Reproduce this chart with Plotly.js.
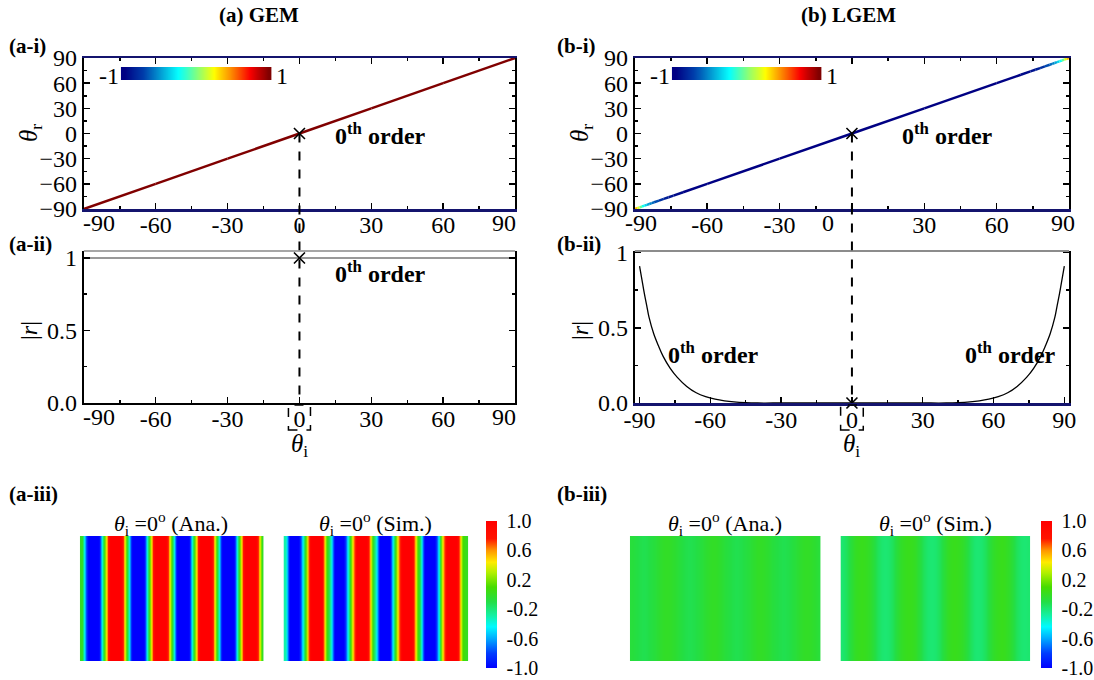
<!DOCTYPE html>
<html><head><meta charset="utf-8">
<script src="https://cdn.plot.ly/plotly-3.0.1.min.js"></script>
<style>html,body{margin:0;padding:0;background:#fff}</style>
</head><body><div id="chart" style="width:1094px;height:680px"></div>
<script>
const W = 1094, H = 680;

// ---------- DATA ----------
// (a-i) GEM: reflected angle vs incident angle, colour = value on -1..1 scale
const thetaI_A = [-90, -60, -30, 0, 30, 60, 90];
const thetaR_A = [-90, -60, -30, 0, 30, 60, 90];
const colorA = [1, 1, 1, 1, 1, 1, 1];
// (a-ii) GEM |r|
const rA = [1, 1, 1, 1, 1, 1, 1];
// (b-i) LGEM
const thetaI_B = [-90,-89,-88,-87,-86,-85,-84,-83,-82,-80,-78,-76,-74,-70,-60,-30,0,30,60,70,74,76,78,80,82,83,84,85,86,87,88,89,90];
const thetaR_B = [-90,-89,-88,-87,-86,-85,-84,-83,-82,-80,-78,-76,-74,-70,-60,-30,0,30,60,70,74,76,78,80,82,83,84,85,86,87,88,89,90];
const colorB = [0.5,0.3,0.05,-0.15,-0.3,-0.42,-0.52,-0.6,-0.66,-0.76,-0.84,-0.9,-0.94,-0.98,-1,-1,-1,-1,-1,-0.98,-0.94,-0.9,-0.84,-0.76,-0.66,-0.6,-0.52,-0.42,-0.3,-0.15,0.05,0.3,0.5];
// (b-ii) LGEM |r|
const thetaI_Bii = [-90,-89,-88,-87,-86,-84,-82,-80,-77,-74,-70,-66,-62,-58,-54,-50,-45,-40,-30,-20,-10,0,10,20,30,40,45,50,54,58,62,66,70,74,77,80,82,84,86,87,88,89,90];
const rB = [0.91,0.82,0.73,0.65,0.57,0.46,0.38,0.31,0.23,0.17,0.11,0.068,0.042,0.025,0.014,0.007,0.002,0,0,0,0,0,0,0,0,0,0.002,0.007,0.014,0.025,0.042,0.068,0.11,0.17,0.23,0.31,0.38,0.46,0.57,0.65,0.73,0.82,0.91];
// working point (0th order at normal incidence)
const markA_i = {x:[0], y:[0]}, markA_ii = {x:[0], y:[1]};
const markB_i = {x:[0], y:[0]}, markB_ii = {x:[0], y:[0]};
// (a-iii)/(b-iii) field profiles across the sample (columns, left to right)
const anaA = [0,-0.75,-1.2,-1.3,-1.2,-0.75,0,0.75,1.2,1.3,1.2,0.75, 0,-0.75,-1.2,-1.3,-1.2,-0.75,0,0.75,1.2,1.3,1.2,0.75, 0,-0.75,-1.2,-1.3,-1.2,-0.75,0,0.75,1.2,1.3,1.2,0.75, 0,-0.75,-1.2,-1.3,-1.2,-0.75,0,0.75,1.2,1.3,1.2,0.75, 0];
const simA = [-0.3,-1.0,-1.3,-1.2,-0.8,-0.1,0.6,1.1,1.3,1.2,0.8,0.1, -0.3,-1.0,-1.3,-1.2,-0.8,-0.1,0.6,1.1,1.3,1.2,0.8,0.1, -0.3,-1.0,-1.3,-1.2,-0.8,-0.1,0.6,1.1,1.3,1.2,0.8,0.1, -0.3,-1.0,-1.3,-1.2,-0.8,-0.1,0.6,1.1,1.3,1.2,0.8,0.1, 0.0];
const anaB = [-0.07,-0.09,-0.11,-0.12,-0.11,-0.09,-0.07,-0.04,-0.02,-0.01,-0.02,-0.04, -0.07,-0.09,-0.11,-0.12,-0.11,-0.09,-0.07,-0.04,-0.02,-0.01,-0.02,-0.04, -0.07,-0.09,-0.11,-0.12,-0.11,-0.09,-0.07,-0.04,-0.02,-0.01,-0.02,-0.04, -0.07,-0.09,-0.11,-0.12,-0.11,-0.09,-0.07,-0.04,-0.02,-0.01,-0.02,-0.04, -0.07];
const simB = [-0.18,-0.14,-0.07,-0.02,0.01,0.02,0.01,-0.02,-0.07,-0.14,-0.18,-0.19, -0.18,-0.14,-0.07,-0.02,0.01,0.02,0.01,-0.02,-0.07,-0.14,-0.18,-0.19, -0.18,-0.14,-0.07,-0.02,0.01,0.02,0.01,-0.02,-0.07,-0.14,-0.18,-0.19, -0.18,-0.14,-0.07,-0.02,0.01,0.02,0.01,-0.02,-0.07,-0.14,-0.18,-0.19, -0.18];
// inset colour strip values
const stripVals = [-1,-0.9,-0.8,-0.7,-0.6,-0.5,-0.4,-0.3,-0.2,-0.1,0,0.1,0.2,0.3,0.4,0.5,0.6,0.7,0.8,0.9,1];
const xTicks = [-90,-60,-30,0,30,60,90];
const xTickTextInner = ['','-60','-30','0','30','60',''];
const xTickTextB = ['','-60','-30','','30','60',''];
const yTicksI = [-90,-60,-30,0,30,60,90];
const cbTicks = [-1,-0.6,-0.2,0.2,0.6,1];
const cbTickText = ['-1.0','-0.6','-0.2','0.2','0.6','1.0'];

// ---------- STYLE ----------
const FONT = 'Liberation Serif';
const TICK = 24;
const JET = [[0,'rgb(0,0,131)'],[0.125,'rgb(0,60,170)'],[0.375,'rgb(5,255,255)'],[0.625,'rgb(255,255,0)'],[0.875,'rgb(250,0,0)'],[1,'rgb(128,0,0)']];
const RAINBOW = [[0,'rgb(0,0,255)'],[0.1,'rgb(0,60,255)'],[0.2,'rgb(0,170,255)'],[0.28,'rgb(0,250,255)'],[0.36,'rgb(20,240,160)'],[0.45,'rgb(35,222,70)'],[0.55,'rgb(70,220,0)'],[0.65,'rgb(180,240,0)'],[0.72,'rgb(255,235,0)'],[0.8,'rgb(255,150,0)'],[0.88,'rgb(255,20,0)'],[1,'rgb(255,0,0)']];
const NAVY = 'rgb(20,20,110)';

function parseRGB(s){return s.match(/\d+/g).map(Number);}
function jetColor(v){
  const t = Math.max(0, Math.min(1, (v+1)/2));
  for (let i=0;i<JET.length-1;i++){
    const [t0,c0]=JET[i],[t1,c1]=JET[i+1];
    if (t>=t0 && t<=t1){
      const f=(t-t0)/(t1-t0), a=parseRGB(c0), b=parseRGB(c1);
      return 'rgb('+a.map((x,k)=>Math.round(x+(b[k]-x)*f)).join(',')+')';
    }
  }
  return JET[JET.length-1][1];
}
const px = x => x / W;
const py = y => 1 - y / H;
const dom = (a,b) => [px(a), px(b)];
const domY = (top,bottom) => [py(bottom), py(top)];

// pixel layout
const AX = [84, 516], BX = [636, 1071];
const Y_I = [58, 209], Y_II = [251, 403];

function mainAxis(extra){
  return Object.assign({
    showline:true, linecolor:'black', linewidth:2, mirror:'allticks',
    ticks:'inside', ticklen:6, tickwidth:1.5, tickcolor:'black',
    showgrid:false, zeroline:false, fixedrange:true,
    tickfont:{family:FONT, size:TICK, color:'black'}
  }, extra);
}
function xAxisMain(extra){ return mainAxis(Object.assign({ticklabelstandoff:-7}, extra)); }
function hidden(extra){
  return Object.assign({visible:false, fixedrange:true, showgrid:false, zeroline:false}, extra);
}

const traces = [];
// (a-i) line
for (let i=0;i<thetaI_A.length-1;i++){
  traces.push({type:'scatter', mode:'lines', x:[thetaI_A[i],thetaI_A[i+1]], y:[thetaR_A[i],thetaR_A[i+1]],
    line:{color:jetColor((colorA[i]+colorA[i+1])/2), width:2.5}, xaxis:'x', yaxis:'y', showlegend:false, hoverinfo:'skip'});
}
// (a-ii)
traces.push({type:'scatter', mode:'lines', x:thetaI_A, y:rA, line:{color:'#777', width:1.5}, xaxis:'x2', yaxis:'y2', showlegend:false});
// (b-i) line
for (let i=0;i<thetaI_B.length-1;i++){
  traces.push({type:'scatter', mode:'lines', x:[thetaI_B[i],thetaI_B[i+1]], y:[thetaR_B[i],thetaR_B[i+1]],
    line:{color:jetColor((colorB[i]+colorB[i+1])/2), width:2.5}, xaxis:'x3', yaxis:'y3', showlegend:false, hoverinfo:'skip'});
}
// (b-ii)
traces.push({type:'scatter', mode:'lines', x:thetaI_Bii, y:rB, line:{color:'black', width:1.3, shape:'spline'}, xaxis:'x4', yaxis:'y4', showlegend:false});
// markers
const mk = {symbol:'x-thin-open', size:11, color:'black', line:{width:1.6, color:'black'}};
[[markA_i,'x','y'],[markA_ii,'x2','y2'],[markB_i,'x3','y3'],[markB_ii,'x4','y4']].forEach(([m,xa,ya])=>{
  traces.push({type:'scatter', mode:'markers', x:m.x, y:m.y, marker:mk, xaxis:xa, yaxis:ya, cliponaxis:false, showlegend:false});
});
// heatmaps
[[anaA,'x5','y5','coloraxis'],[simA,'x6','y6','coloraxis'],[anaB,'x7','y7','coloraxis2'],[simB,'x8','y8','coloraxis2']].forEach(([row,xa,ya,ca])=>{
  traces.push({type:'heatmap', z:[row,row], zsmooth:'best', coloraxis:ca, xaxis:xa, yaxis:ya});
});
// inset colour strips
[['x9','y9'],['x10','y10']].forEach(([xa,ya])=>{
  traces.push({type:'heatmap', z:[stripVals], zsmooth:'best', colorscale:JET, zmin:-1, zmax:1, showscale:false, xaxis:xa, yaxis:ya});
});

const hmY = domY(536, 661);
const hmXr = [-0.5, anaA.length-0.5];
const cbCommon = {yanchor:'top', y:py(521), lenmode:'pixels', len:147, thicknessmode:'pixels', thickness:11, outlinewidth:0,
  xpad:0, ypad:0, tickvals:cbTicks, ticktext:cbTickText, ticks:'outside', ticklen:6, tickcolor:'rgba(0,0,0,0)', xanchor:'left',
  tickfont:{family:FONT, size:20, color:'black'}};
const layout = {
  width:W, height:H, margin:{l:0,r:0,t:0,b:0}, paper_bgcolor:'white', plot_bgcolor:'rgba(0,0,0,0)',
  showlegend:false, font:{family:FONT, color:'black'},
  xaxis: xAxisMain({domain:dom(...AX), range:[-90,90], tickvals:xTicks, ticktext:xTickTextInner, anchor:'y', linecolor:NAVY, linewidth:2.5,
          minor:{ticks:'inside', ticklen:3, dtick:15, tickcolor:'black'}}),
  yaxis: mainAxis({domain:domY(...Y_I), range:[-90,90], tickvals:yTicksI, anchor:'x', minor:{ticks:'inside', ticklen:3, dtick:15, tickcolor:'black'}}),
  xaxis2: xAxisMain({domain:dom(...AX), range:[-90,90], tickvals:xTicks, ticktext:xTickTextInner, anchor:'y2', mirror:false,
          minor:{ticks:'inside', ticklen:3, dtick:15, tickcolor:'black'}}),
  yaxis2: mainAxis({domain:domY(...Y_II), range:[0,1.048], tickvals:[0,0.5,1], ticktext:['0.0','0.5','1'], anchor:'x2', mirror:'ticks',
          minor:{ticks:'inside', ticklen:3, dtick:0.25, tickcolor:'black'}}),
  xaxis3: xAxisMain({domain:dom(...BX), range:[-90,90], tickvals:xTicks, ticktext:xTickTextB, anchor:'y3', linecolor:NAVY, linewidth:2.5,
          minor:{ticks:'inside', ticklen:3, dtick:15, tickcolor:'black'}}),
  yaxis3: mainAxis({domain:domY(...Y_I), range:[-90,90], tickvals:yTicksI, anchor:'x3', minor:{ticks:'inside', ticklen:3, dtick:15, tickcolor:'black'}}),
  xaxis4: xAxisMain({domain:dom(...BX), range:[-92,92], tickvals:xTicks, ticktext:['-90','-60','-30','0','30','60','90'], anchor:'y4', mirror:false, linecolor:NAVY, linewidth:3,
          minor:{ticks:'inside', ticklen:3, dtick:15, tickcolor:'black'}}),
  yaxis4: mainAxis({domain:domY(...Y_II), range:[0,1.01], tickvals:[0,0.5,1], ticktext:['0.0','0.5','1'], anchor:'x4', mirror:'ticks',
          minor:{ticks:'inside', ticklen:3, dtick:0.25, tickcolor:'black'}}),
  xaxis5: hidden({domain:dom(80,264), range:hmXr, anchor:'y5'}), yaxis5: hidden({domain:hmY, range:[-0.5,1.5], anchor:'x5'}),
  xaxis6: hidden({domain:dom(284,469), range:hmXr, anchor:'y6'}), yaxis6: hidden({domain:hmY, range:[-0.5,1.5], anchor:'x6'}),
  xaxis7: hidden({domain:dom(631,822), range:hmXr, anchor:'y7'}), yaxis7: hidden({domain:hmY, range:[-0.5,1.5], anchor:'x7'}),
  xaxis8: hidden({domain:dom(842,1032), range:hmXr, anchor:'y8'}), yaxis8: hidden({domain:hmY, range:[-0.5,1.5], anchor:'x8'}),
  xaxis9: hidden({domain:dom(121,272), range:[-0.5,20.5], anchor:'y9'}), yaxis9: hidden({domain:domY(67,80), range:[-0.5,0.5], anchor:'x9'}),
  xaxis10: hidden({domain:dom(673,823), range:[-0.5,20.5], anchor:'y10'}), yaxis10: hidden({domain:domY(67,80), range:[-0.5,0.5], anchor:'x10'}),
  coloraxis: {cmin:-1, cmax:1, colorscale:RAINBOW, colorbar:Object.assign({x:px(487)}, cbCommon)},
  coloraxis2: {cmin:-1, cmax:1, colorscale:RAINBOW, colorbar:Object.assign({x:px(1043)}, cbCommon)},
  shapes: [], annotations: []
};

// guide lines and boxes
function yDataToPaper(domain, range, v){ return domain[0] + (v-range[0])/(range[1]-range[0])*(domain[1]-domain[0]); }
layout.shapes.push({type:'line', xref:'x', yref:'paper', x0:0, x1:0,
  y0:yDataToPaper(layout.yaxis.domain, layout.yaxis.range, markA_i.y[0]), y1:yDataToPaper(layout.yaxis2.domain, layout.yaxis2.range, 0),
  line:{color:'black', width:2, dash:'dash'}});
layout.shapes.push({type:'line', xref:'x3', yref:'paper', x0:0, x1:0,
  y0:yDataToPaper(layout.yaxis3.domain, layout.yaxis3.range, markB_i.y[0]), y1:yDataToPaper(layout.yaxis4.domain, layout.yaxis4.range, 0),
  line:{color:'black', width:2, dash:'dash'}});
layout.shapes.push({type:'rect', xref:'x2', yref:'paper', x0:-4.6, x1:4.6, y0:py(430), y1:py(405), line:{color:'black', width:1.5, dash:'dash'}});
layout.shapes.push({type:'rect', xref:'x4', yref:'paper', x0:-4.8, x1:4.8, y0:py(430), y1:py(405), line:{color:'black', width:1.5, dash:'dash'}});
// top borders of (ii) panels
layout.shapes.push({type:'line', xref:'x2 domain', yref:'y2 domain', x0:0, x1:1, y0:1, y1:1, line:{color:'#888', width:1.5}});
layout.shapes.push({type:'line', xref:'x4 domain', yref:'y4 domain', x0:0, x1:1, y0:1, y1:1, line:{color:'#666', width:1.5}});

function ann(text, x, y, opts){
  layout.annotations.push(Object.assign({text, x, y, xref:'paper', yref:'paper', showarrow:false,
    font:{family:FONT, size:20, color:'black'}, xanchor:'center', yanchor:'middle'}, opts||{}));
}
const F = s => ({family:FONT, size:s, color:'black'});
// titles
ann('<b>(a) GEM</b>', px(259), py(15), {font:F(21)});
ann('<b>(b) LGEM</b>', px(850), py(15), {font:F(21)});
// panel labels
ann('<b>(a-i)</b>', px(7), py(46), {xanchor:'left', font:F(21)});
ann('<b>(a-ii)</b>', px(7), py(244), {xanchor:'left', font:F(21)});
ann('<b>(a-iii)</b>', px(7), py(494), {xanchor:'left', font:F(21)});
ann('<b>(b-i)</b>', px(556), py(46), {xanchor:'left', font:F(21)});
ann('<b>(b-ii)</b>', px(556), py(244), {xanchor:'left', font:F(21)});
ann('<b>(b-iii)</b>', px(556), py(494), {xanchor:'left', font:F(21)});
// axis titles
ann('<i>θ</i><sub>r</sub>', px(31), py(133), {textangle:-90, font:F(25)});
ann('<i>θ</i><sub>r</sub>', px(583), py(133), {textangle:-90, font:F(25)});
ann('|<i>r</i>|', px(29), py(330), {textangle:-90, font:F(24)});
ann('|<i>r</i>|', px(581), py(330), {textangle:-90, font:F(24)});
ann('<i>θ</i><sub>i</sub>', 0, py(445), {xref:'x2', font:F(25)});
ann('<i>θ</i><sub>i</sub>', 0, py(445), {xref:'x4', font:F(25)});
// end tick labels drawn slightly inside the frame, as in the original figure
function tickLab(text, x, xa, ya){
  layout.annotations.push({text, x, y:0, xref:xa, yref:ya+' domain', yanchor:'top', xanchor:'center', yshift:1, showarrow:false, font:F(TICK)});
}
tickLab('-90', -83.5, 'x', 'y'); tickLab('90', 85.5, 'x', 'y');
tickLab('-90', -83.5, 'x2', 'y2'); tickLab('90', 85.5, 'x2', 'y2');
tickLab('-90', -87.5, 'x3', 'y3'); tickLab('90', 87.5, 'x3', 'y3');
tickLab('0', -10, 'x3', 'y3');
// order labels
const ord = '<b>0<sup>th</sup> order</b>';
layout.annotations.push({text:ord, x:14, y:0, xref:'x', yref:'y', xanchor:'left', yanchor:'middle', showarrow:false, font:F(24)});
layout.annotations.push({text:ord, x:14, y:0.9, xref:'x2', yref:'y2', xanchor:'left', yanchor:'middle', showarrow:false, font:F(24)});
layout.annotations.push({text:ord, x:20, y:0, xref:'x3', yref:'y3', xanchor:'left', yanchor:'middle', showarrow:false, font:F(24)});
layout.annotations.push({text:ord, x:-79, y:0.33, xref:'x4', yref:'y4', xanchor:'left', yanchor:'middle', showarrow:false, font:F(24)});
layout.annotations.push({text:ord, x:47, y:0.33, xref:'x4', yref:'y4', xanchor:'left', yanchor:'middle', showarrow:false, font:F(24)});
// inset strip labels
ann('-1', px(121), py(76), {xanchor:'right', font:F(24)});
ann('1', px(275), py(76), {xanchor:'left', font:F(24)});
ann('-1', px(673), py(76), {xanchor:'right', font:F(24)});
ann('1', px(826), py(76), {xanchor:'left', font:F(24)});
// heatmap titles
const hTitle = s => '<i>θ</i><sub>i</sub> =0<sup>o</sup> ('+s+')';
ann(hTitle('Ana.'), px(171), py(523), {font:F(22)});
ann(hTitle('Sim.'), px(376), py(523), {font:F(22)});
ann(hTitle('Ana.'), px(726), py(523), {font:F(22)});
ann(hTitle('Sim.'), px(937), py(523), {font:F(22)});

Plotly.newPlot('chart', traces, layout, {displayModeBar:false, staticPlot:true});
</script></body></html>
